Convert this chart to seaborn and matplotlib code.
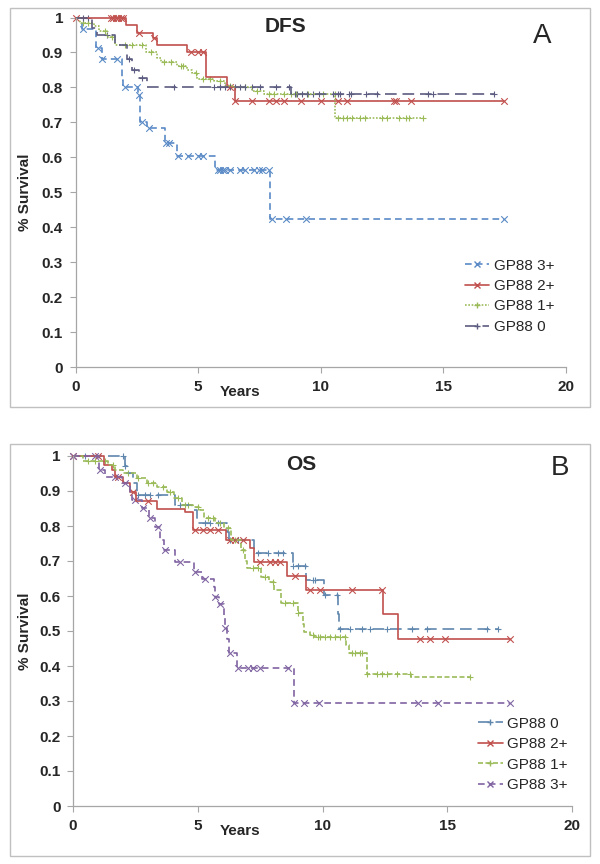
import numpy as np
import matplotlib
matplotlib.use("Agg")
import matplotlib.pyplot as plt
from matplotlib.lines import Line2D
from matplotlib.patches import Rectangle
import seaborn as sns

sns.set_style("white")
plt.rcParams['font.family'] = ['Liberation Sans', 'DejaVu Sans']

# ---- DFS (panel A) ----
dfs_3_t = [0, 0.27, 0.82, 1.09, 1.9, 1.95, 2.54, 2.65, 2.92, 3.67, 4.15, 5.71, 7.92, 17.5]
dfs_3_s = [1, 0.967, 0.913, 0.88, 0.82, 0.80, 0.779, 0.70, 0.683, 0.641, 0.605, 0.5625, 0.423, 0.423]
dfs_3_c = [0.3, 0.9, 1.1, 1.7, 2.0, 2.5, 2.6, 2.7, 3.0, 3.7, 3.8, 4.2, 4.6, 5.0, 5.2, 5.8, 5.9,
           6.0, 6.1, 6.3, 6.7, 6.9, 7.3, 7.5, 7.6, 7.9, 8.0, 8.6, 9.4, 17.5]

dfs_2_t = [0, 2.07, 2.52, 3.17, 3.33, 4.56, 5.33, 6.19, 6.49, 17.5]
dfs_2_s = [1, 0.978, 0.957, 0.94, 0.921, 0.90, 0.829, 0.80, 0.761, 0.761]
dfs_2_c = [0.0, 1.45, 1.55, 1.65, 1.75, 1.85, 1.95, 2.6, 3.2, 4.7, 5.0, 5.2, 6.3, 6.5, 7.2, 7.9,
           8.2, 8.5, 9.2, 10.0, 10.7, 11.1, 13.0, 13.1, 13.7, 17.5]

dfs_1_t = [0, 0.2, 0.75, 0.95, 1.29, 1.63, 2.86, 3.33, 3.47, 4.15, 4.56, 4.76, 4.97, 5.65,
           6.12, 6.46, 7.21, 7.69, 10.61, 14.22]
dfs_1_s = [1, 0.985, 0.975, 0.96, 0.945, 0.922, 0.90, 0.885, 0.873, 0.86, 0.85, 0.84, 0.825,
           0.818, 0.805, 0.80, 0.79, 0.78, 0.712, 0.712]
dfs_1_c = [0.3, 0.5, 1.2, 1.5, 2.0, 2.3, 2.7, 3.1, 3.6, 3.9, 4.3, 4.4, 4.9, 5.2, 5.5, 5.9, 6.3,
           6.9, 7.4, 7.9, 8.1, 8.5, 8.8, 9.0, 9.5, 10.1, 10.6, 10.7, 10.9, 11.1, 11.3, 11.6,
           11.8, 12.5, 12.7, 13.2, 13.5, 13.6, 14.2]

dfs_0_t = [0, 0.68, 0.89, 1.63, 2.11, 2.31, 2.58, 2.9, 8.8, 17.07]
dfs_0_s = [1, 0.97, 0.95, 0.921, 0.88, 0.851, 0.827, 0.80, 0.78, 0.78]
dfs_0_c = [0.3, 0.5, 1.3, 2.2, 2.4, 2.7, 4.0, 5.65, 5.9, 6.1, 6.3, 6.5, 6.7, 6.9, 7.2, 7.55,
           8.2, 8.7, 8.95, 9.05, 9.25, 9.45, 9.7, 9.95, 10.5, 10.7, 10.8, 11.15, 11.25,
           11.85, 12.3, 14.4, 14.6, 17.07]

# ---- OS (panel B) ----
os_0_t = [0, 2.09, 2.15, 2.4, 2.56, 4.1, 4.77, 4.98, 6.18, 6.25, 7.25, 8.8, 9.34, 10.07,
          10.61, 10.68, 17.05]
os_0_s = [1, 0.97, 0.95, 0.922, 0.889, 0.86, 0.846, 0.808, 0.784, 0.76, 0.722, 0.686,
          0.646, 0.603, 0.549, 0.506, 0.506]
os_0_c = [0.5, 2.0, 2.1, 2.6, 2.9, 3.1, 3.4, 4.3, 5.3, 5.5, 5.8, 6.3, 6.6, 7.4, 7.8, 8.2,
          8.4, 8.8, 9.0, 9.3, 9.6, 9.7, 10.1, 10.6, 10.7, 11.1, 11.6, 11.9, 12.6, 13.6,
          14.2, 16.6, 17.05]

os_2_t = [0, 1.26, 1.56, 1.69, 2.02, 2.29, 2.54, 3.37, 4.5, 4.82, 6.12, 7.1, 7.25, 8.59,
          9.34, 12.42, 13.02, 17.52]
os_2_s = [1, 0.974, 0.96, 0.939, 0.922, 0.898, 0.872, 0.848, 0.84, 0.789, 0.76, 0.736,
          0.696, 0.658, 0.617, 0.549, 0.477, 0.477]
os_2_c = [0.0, 1.0, 1.8, 2.4, 3.0, 4.9, 5.2, 5.5, 5.8, 6.3, 6.5, 6.8, 7.5, 7.9, 8.1, 8.3,
          8.9, 9.5, 9.9, 11.2, 12.4, 13.9, 14.3, 14.9, 17.52]

os_1_t = [0, 0.41, 1.42, 1.69, 2.0, 2.55, 2.97, 3.37, 3.77, 4.05, 4.37, 4.8, 5.1, 5.25,
          5.71, 6.05, 6.32, 6.72, 6.9, 6.99, 7.52, 7.86, 8.06, 8.33, 9.0, 9.2, 9.27, 9.5,
          9.67, 10.95, 11.05, 11.79, 13.56, 15.91]
os_1_s = [1, 0.987, 0.974, 0.96, 0.95, 0.936, 0.922, 0.91, 0.898, 0.88, 0.86, 0.855,
          0.846, 0.822, 0.808, 0.793, 0.76, 0.731, 0.70, 0.679, 0.655, 0.64, 0.617, 0.579,
          0.551, 0.52, 0.498, 0.489, 0.482, 0.46, 0.438, 0.377, 0.368, 0.368]
os_1_c = [0.6, 0.9, 1.3, 1.6, 2.2, 2.6, 3.0, 3.2, 3.6, 3.9, 4.2, 4.5, 4.6, 5.0, 5.4, 5.6,
          5.9, 6.2, 6.5, 6.8, 7.2, 7.4, 7.7, 8.0, 8.5, 8.8, 9.0, 9.6, 9.8, 9.9, 10.1, 10.3,
          10.5, 10.7, 10.9, 11.2, 11.3, 11.5, 11.6, 11.8, 12.2, 12.4, 12.6, 13.0, 13.5, 15.9]

os_3_t = [0, 1.06, 1.29, 1.96, 2.29, 2.35, 2.76, 3.03, 3.3, 3.5, 3.64, 4.1, 4.84, 5.18,
          5.65, 5.7, 5.85, 6.05, 6.1, 6.18, 6.25, 6.59, 8.84, 17.52]
os_3_s = [1, 0.96, 0.94, 0.922, 0.893, 0.874, 0.85, 0.822, 0.798, 0.76, 0.731, 0.696,
          0.669, 0.648, 0.627, 0.598, 0.577, 0.546, 0.508, 0.476, 0.436, 0.395, 0.295, 0.295]
os_3_c = [0.0, 0.9, 1.1, 1.7, 2.1, 2.5, 2.8, 3.1, 3.4, 3.7, 4.3, 4.9, 5.3, 5.7, 5.9, 6.1,
          6.3, 6.6, 7.0, 7.2, 7.5, 8.6, 8.84, 9.27, 9.87, 13.83, 14.63, 17.52]

blue = '#5a8ac6'
red = '#c0504d'
green = '#9bbb59'
slate = '#5c5c80'
steel = '#5f86ad'
purple = '#8064a2'

dfs_series = [
    ("GP88 3+", dfs_3_t, dfs_3_s, dfs_3_c, blue, (0, (4, 2.5)), 'x'),
    ("GP88 2+", dfs_2_t, dfs_2_s, dfs_2_c, red, '-', 'x'),
    ("GP88 1+", dfs_1_t, dfs_1_s, dfs_1_c, green, (0, (1, 1)), '+'),
    ("GP88 0", dfs_0_t, dfs_0_s, dfs_0_c, slate, (0, (7, 3.5)), '+'),
]
os_series = [
    ("GP88 0", os_0_t, os_0_s, os_0_c, steel, (0, (7, 3.5)), '+'),
    ("GP88 2+", os_2_t, os_2_s, os_2_c, red, '-', 'x'),
    ("GP88 1+", os_1_t, os_1_s, os_1_c, green, (0, (3, 1.5)), '+'),
    ("GP88 3+", os_3_t, os_3_s, os_3_c, purple, (0, (4, 2.5)), 'x'),
]


def draw_panel(ax, series, leg_xy):
    handles = []
    for label, t, s, c, col, ls, mk in series:
        sns.lineplot(x=t, y=s, drawstyle='steps-post', color=col, linestyle=ls,
                     linewidth=1.2, estimator=None, sort=False, ax=ax, clip_on=False)
        t_arr = np.array(t)
        idx = np.searchsorted(t_arr, c, side='right') - 1
        cy = np.array(s)[idx]
        sns.scatterplot(x=c, y=cy, marker=mk, s=22, color=col, linewidth=0.8,
                        ax=ax, clip_on=False)
        handles.append(Line2D([0, 1], [0, 0], color=col, linestyle=ls, linewidth=1.2,
                              marker=mk, markersize=5, markevery=[1], label=label))
    ax.set_xlim(0, 20)
    ax.set_ylim(0, 1)
    ax.set_xticks([0, 5, 10, 15, 20])
    ax.set_yticks(np.round(np.arange(0, 1.01, 0.1), 1))
    ax.set_yticklabels(['0', '0.1', '0.2', '0.3', '0.4', '0.5', '0.6', '0.7', '0.8',
                        '0.9', '1'])
    for sp in ['top', 'right']:
        ax.spines[sp].set_visible(False)
    for sp in ['left', 'bottom']:
        ax.spines[sp].set_color('#a6a6a6')
        ax.spines[sp].set_linewidth(0.9)
    ax.tick_params(axis='both', which='both', direction='out', length=4, width=0.8,
                   color='#a6a6a6', labelsize=11, pad=5)
    ax.tick_params(left=True, bottom=True)
    for lab in ax.get_xticklabels() + ax.get_yticklabels():
        lab.set_fontweight('bold')
    ax.set_xlabel('')
    ax.set_ylabel('')
    ax.text(0.335, -0.072, 'Years', transform=ax.transAxes, ha='center', va='center',
            fontsize=11, fontweight='bold')
    ax.legend(handles=handles, loc='upper left', bbox_to_anchor=leg_xy, frameon=False,
              fontsize=11, handlelength=1.6, handletextpad=0.3, labelspacing=0.42,
              borderpad=0, borderaxespad=0)


fig = plt.figure(figsize=(6, 8.64), dpi=100)
W, H = 600.0, 864.0

# outer frames
fig.patches.append(Rectangle((10 / W, 1 - 407 / H), 580 / W, 399 / H, transform=fig.transFigure,
                             fill=False, edgecolor='#c0c0c0', linewidth=1))
fig.patches.append(Rectangle((10 / W, 1 - 856 / H), 580 / W, 412 / H, transform=fig.transFigure,
                             fill=False, edgecolor='#c0c0c0', linewidth=1))

ax1 = fig.add_axes([75.5 / W, 1 - 367 / H, 490 / W, 349.5 / H])
draw_panel(ax1, dfs_series, (0.795, 0.31))

ax2 = fig.add_axes([73 / W, 1 - 806 / H, 499 / W, 350 / H])
draw_panel(ax2, os_series, (0.812, 0.255))

fig.text(286 / W, 1 - 27 / H, 'DFS', ha='center', va='center', fontsize=15, fontweight='bold')
fig.text(542 / W, 1 - 36 / H, 'A', ha='center', va='center', fontsize=20)
fig.text(301 / W, 1 - 465 / H, 'OS', ha='center', va='center', fontsize=15, fontweight='bold')
fig.text(560 / W, 1 - 468 / H, 'B', ha='center', va='center', fontsize=20)

fig.text(25 / W, 1 - 192 / H, '% Survival', rotation=90, ha='center', va='center',
         fontsize=11, fontweight='bold')
fig.text(25 / W, 1 - 631 / H, '% Survival', rotation=90, ha='center', va='center',
         fontsize=11, fontweight='bold')

fig.savefig('out.png', dpi=100)
